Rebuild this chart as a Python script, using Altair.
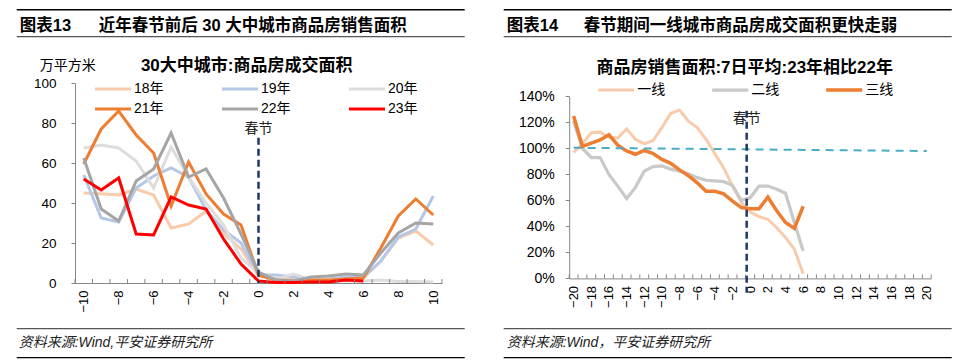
import altair as alt
import pandas as pd

# ---------------- data: left panel ----------------
days_left = list(range(-10, 11))
left_names = ["18年", "19年", "20年", "21年", "22年", "23年"]
left_colors = ["#F8CBAD", "#B4C7E7", "#DDDDDD", "#ED7D31", "#A5A5A5", "#FF0000"]
left_widths = [3, 3, 3, 3.5, 3.5, 4.5]
s18 = [45, 44.6, 44, 47, 44, 27.5, 29.5, 36, 25, 17, 3.5, 2, 2.5, 1, 2, 2.5, 2.5, 11, 22.5, 26, 19]
s19 = [54, 32.5, 30.5, 47.5, 53.5, 57.5, 53, 36.5, 26.5, 20, 4, 4, 3, 1.5, 2, 3, 3, 11, 23, 27, 43.5]
s20 = [67.5, 69, 67.5, 61, 47.5, 68, 53, 40, 29, 12.5, 5, 2, 4.5, 1.5, 2, 1, 1, 1.5, 0.8, 0.8, 0.5]
s21 = [59.5, 77, 86, 74, 65, 38.5, 60.5, 44.5, 34.5, 29, 4, 1.5, 1, 1.5, 1.5, 2, 2.5, 17.5, 33.5, 42, 34]
s22 = [62.5, 37, 31, 51, 57, 75, 53, 57, 42.5, 24.5, 5.5, 1.5, 1, 3, 3.5, 4.5, 4, 15, 25, 30, 29.5]
s23 = [52, 46.5, 52.5, 24.5, 24, 43, 39, 37, 22, 9.5, 1, 0.3, 0.3, 0.5, 0.5, 1.5, 1]
left_series = [s18, s19, s20, s21, s22, s23]
left_xlabels = list(range(-10, 11, 2))
left_yticks = [0, 20, 40, 60, 80, 100]

# ---------------- data: right panel ----------------
days_right = list(range(-20, 7))
right_names = ["一线", "二线", "三线"]
right_colors = ["#F8CBAD", "#C9C9C9", "#ED7D31"]
right_widths = [3, 3.5, 3.5]
tier1 = [97, 103.5, 112, 112.5, 108.5, 108, 115, 107, 103.5, 106, 116, 127, 129.5, 121, 116, 107,
         96, 85, 71, 58.5, 51, 47.5, 45.5, 39, 31.5, 22.5, 3.5]
tier2 = [121, 100, 93, 93, 80, 71, 61.5, 70, 82.5, 86, 86.5, 84, 82.5, 80.5, 77.5, 75.5,
         75, 74.5, 71.5, 60, 62, 71, 71, 68.5, 65.5, 43, 21]
tier3 = [125, 101.5, 104, 106.5, 110.5, 102.5, 98, 95.5, 98.5, 96, 91.5, 88.5, 83.5, 79, 73.5, 67,
         67, 65, 59.5, 54.5, 53.5, 53.5, 62.5, 52, 43, 38.5, 55.5]
right_series = [tier1, tier2, tier3]
ref_days = [-20, 20]
ref_values = [100.5, 98]
right_xlabels = list(range(-20, 21, 2))
right_yticks = [0, 20, 40, 60, 80, 100, 120, 140]

# ---------------- texts ----------------
left_fig_no = ["图表13"]
left_header = ["近年春节前后 30 大中城市商品房销售面积"]
left_title = ["30大中城市:商品房成交面积"]
left_unit = ["万平方米"]
right_fig_no = ["图表14"]
right_header = ["春节期间一线城市商品房成交面积更快走弱"]
right_title = ["商品房销售面积:7日平均:23年相比22年"]
left_source = ["资料来源:Wind,平安证券研究所"]
right_source = ["资料来源:Wind，平安证券研究所"]
festival = ["春节"]
festival_left_day = [0]
festival_right_day = [-0.4]

FONT = "Liberation Sans, Noto Sans CJK SC"
NUM = "Liberation Sans"
NAVY = "#1F3864"
AX = "#868686"
LEGEND_SYMBOL = "M-3.6,0H3.6"

LW, LH = 367, 200
RW, RH = 362, 195.4


def long_df(days, names, series):
    rows = []
    for n, vals in zip(names, series):
        for d, v in zip(days, vals):
            rows.append({"day": d, "value": v, "series": n})
    return pd.DataFrame(rows)


left_df = long_df(days_left, left_names, left_series)
right_df = long_df(days_right, right_names, right_series)
ref_df = pd.DataFrame({"day": ref_days, "value": ref_values})


def text_layer(items, x, y, size, bold=False, italic=False, align="left", color="#000"):
    return alt.Chart(pd.DataFrame({"label": items})).mark_text(
        font=FONT, fontSize=size, fontWeight="bold" if bold else "normal",
        fontStyle="italic" if italic else "normal", align=align, baseline="middle", color=color
    ).encode(x=alt.value(x), y=alt.value(y), text="label:N")


def hrule(x1, x2, y, color, width):
    return alt.Chart(pd.DataFrame({"k": [0]})).mark_rule(color=color, strokeWidth=width).encode(
        x=alt.value(x1), x2=alt.value(x2), y=alt.value(y))


def make_axes(xlabels, yticks, ylab_expr, ylab_size, ylab_pad):
    xaxis = alt.Axis(values=xlabels, labelAngle=270, ticks=False, domainColor=AX, domainWidth=1,
                     labelFont=NUM, labelFontSize=13, labelColor="#000", labelPadding=7,
                     labelFlush=False, labelOverlap=False, labelBound=False, grid=False, title=None)
    yaxis_kw = dict(values=yticks, tickSize=4, tickColor=AX, domainColor=AX, labelFont=NUM,
                    labelFontSize=ylab_size, labelColor="#000", labelPadding=ylab_pad, grid=False,
                    title=None, labelFlush=False, labelOverlap=False, labelBound=False)
    if ylab_expr:
        yaxis_kw["labelExpr"] = ylab_expr
    return xaxis, alt.Axis(**yaxis_kw)


def panel(df, names, colors, widths, xs, ys, xaxis, yaxis, width, height,
          legend_x, legend_y, col_pad, row_pad, fest_day, fest_y, fest_y1, fest_y2, extra):
    lines = alt.Chart(df).mark_line().encode(
        x=alt.X("day:Q", scale=xs, axis=xaxis),
        y=alt.Y("value:Q", scale=ys, axis=yaxis),
        color=alt.Color("series:N", scale=alt.Scale(domain=names, range=colors),
                        legend=alt.Legend(orient="none", legendX=legend_x, legendY=legend_y,
                                          direction="horizontal", columns=3, title=None,
                                          symbolType=LEGEND_SYMBOL, symbolSize=100, symbolStrokeWidth=4,
                                          labelFont=FONT, labelFontSize=14, labelColor="#000",
                                          columnPadding=col_pad, rowPadding=row_pad, padding=0,
                                          labelOffset=14)),
        strokeWidth=alt.StrokeWidth("series:N", scale=alt.Scale(domain=names, range=widths), legend=None),
    )
    lo, hi = xs.domain
    half = [d + 0.5 for d in range(int(lo - 0.5), int(hi + 0.5))]
    ticks = alt.Chart(pd.DataFrame({"day": half})).mark_rule(color=AX, strokeWidth=1).encode(
        x=alt.X("day:Q", scale=xs, axis=xaxis), y=alt.value(height - 4), y2=alt.value(height))
    fest = alt.Chart(pd.DataFrame({"day": fest_day})).mark_rule(
        color=NAVY, strokeWidth=2.5, strokeDash=[7, 4]).encode(
        x=alt.X("day:Q", scale=xs, axis=xaxis), y=alt.value(fest_y1), y2=alt.value(fest_y2))
    fest_t = alt.Chart(pd.DataFrame({"day": fest_day, "label": festival})).mark_text(
        font=FONT, fontSize=14, color="#222", baseline="middle", align="center").encode(
        x=alt.X("day:Q", scale=xs, axis=xaxis), y=alt.value(fest_y), text="label:N")
    layers = [lines, ticks] + extra + [fest, fest_t]
    return alt.layer(*layers).properties(width=width, height=height)


# ---- left ----
lxs = alt.Scale(domain=[-10.5, 10.5], nice=False, zero=False)
lys = alt.Scale(domain=[0, 100], nice=False, zero=True, range=[LH, 0])
lxa, lya = make_axes(left_xlabels, left_yticks, None, 13.5, 15)
left_extra = [
    hrule(-58.3, 389.7, -73.3, "#000", 1.5),
    hrule(-58.3, 389.7, -46.3, "#555", 1.2),
    text_layer(left_fig_no, -55.3, -57.3, 16.5, bold=True),
    text_layer(left_header, 23.7, -57.3, 16.5, bold=True),
    text_layer(left_unit, -7.3, -17.3, 14, align="center"),
    text_layer(left_title, 171.7, -17.3, 17, bold=True, align="center"),
    hrule(-58.3, 389.7, 245.7, "#555", 1.2),
    hrule(-58.3, 389.7, 274.7, "#000", 1.2),
    text_layer(left_source, -56.3, 259.7, 14, italic=True, color="#222"),
]
left = panel(left_df, left_names, left_colors, left_widths, lxs, lys, lxa, lya, LW, LH,
             31, -1, 52, 6, festival_left_day, 45.7, 54.7, LH, left_extra)

# ---- right ----
rxs = alt.Scale(domain=[-20.5, 20.5], nice=False, zero=False)
rys = alt.Scale(domain=[0, 140], nice=False, zero=True, range=[RH, 13.4])
rxa, rya = make_axes(right_xlabels, right_yticks, "datum.value + '%'", 14, 11)
ref_line = alt.Chart(ref_df).mark_line(color="#4BACC6", strokeWidth=2, strokeDash=[8, 6]).encode(
    x=alt.X("day:Q", scale=rxs, axis=rxa), y=alt.Y("value:Q", scale=rys, axis=rya))
right_extra = [
    ref_line,
    hrule(-65.5, 382.5, -73.3, "#000", 1.5),
    hrule(-65.5, 382.5, -46.3, "#555", 1.2),
    text_layer(right_fig_no, -62.5, -57.3, 16.5, bold=True),
    text_layer(right_header, 14.5, -57.3, 16.5, bold=True),
    text_layer(right_title, 175.5, -15.3, 17, bold=True, align="center"),
    hrule(-65.5, 382.5, 245.7, "#555", 1.2),
    hrule(-65.5, 382.5, 274.7, "#000", 1.2),
    text_layer(right_source, -62.5, 259.7, 14, italic=True, color="#222"),
]
right = panel(right_df, right_names, right_colors, right_widths, rxs, rys, rxa, rya, RW, RH,
              40, 0, 40, 6, festival_right_day, 35.7, 27.7, 209.7, right_extra)

chart = alt.hconcat(left, right, spacing=127.2, bounds="flush").resolve_scale(
    color="independent", strokeWidth="independent"
).properties(
    padding={"left": 7, "top": 0, "right": 5, "bottom": 0}
).configure_view(stroke=None).configure_axis(grid=False)

chart.save("out.html", embed_options={"renderer": "svg", "actions": False})
